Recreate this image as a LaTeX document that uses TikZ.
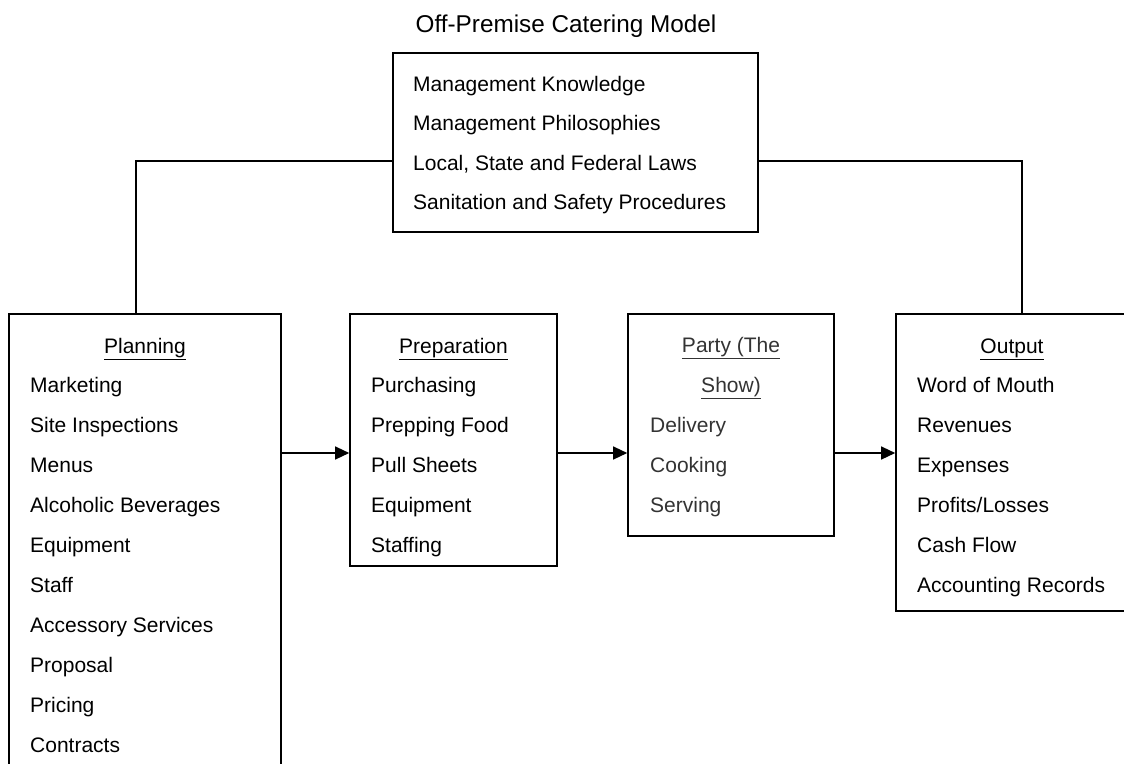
\documentclass[tikz,border=0pt]{standalone}
\usepackage{fontspec}
\setmainfont{Liberation Sans}
\usetikzlibrary{positioning}
\usetikzlibrary{arrows.meta}
\tikzset{
    catbox/.style = {rectangle, line width=1.6pt, draw=black, inner sep=0pt},
    cathead/.style = {anchor=base, inner sep=0pt, align=center, font=\fontsize{21}{39.5}\selectfont, text=black},
    catitem/.style = {anchor=base west, inner sep=0pt, align=left, font=\fontsize{21}{40}\selectfont, text=black},
    edgen/.style = {-, line width=1.3pt, black},
    edgea/.style = {-{Triangle[length=14pt,width=13pt]}, line width=1.3pt, black}, % flow
}

\begin{document}
\begin{tikzpicture}[x=1pt,y=-1pt]
  \useasboundingbox (0,0) rectangle (1124,763);
  \clip (0,0) rectangle (1124,763);
  \node[cathead, font=\fontsize{24.3}{30}\selectfont] (title) at (566,32) {Off-Premise Catering Model};
  % management box (text placed at last baseline)
  \node[catbox, minimum width=365pt, minimum height=179pt] (mgmt) at (575.5,142.5) {};
  \node[catitem, font=\fontsize{21}{39.5}\selectfont] (mgmttext) at (413,209.5)
    {Management Knowledge\\Management Philosophies\\Local, State and Federal Laws\\Sanitation and Safety Procedures};
  % planning
  \node[catbox, minimum width=272pt, minimum height=490pt] (plan) at (145,559) {};
  \node[cathead] (planhead) at (145,353) {\underline{Planning}};
  \node[catitem] (plantext) at (30,752)
    {Marketing\\Site Inspections\\Menus\\Alcoholic Beverages\\Equipment\\Staff\\Accessory Services\\Proposal\\Pricing\\Contracts};
  % preparation
  \node[catbox, minimum width=207pt, minimum height=252pt] (prep) at (453.5,440) {};
  \node[cathead] (prephead) at (453.5,353) {\underline{Preparation}};
  \node[catitem] (preptext) at (371,552)
    {Purchasing\\Prepping Food\\Pull Sheets\\Equipment\\Staffing};
  % party
  \node[catbox, minimum width=206pt, minimum height=222pt] (party) at (731,425) {};
  \node[cathead, text=black!80] (partyhead) at (731,392) {\underline{Party (The}\\\underline{Show)}};
  \node[catitem, text=black!80] (partytext) at (650,512)
    {Delivery\\Cooking\\Serving};
  % output
  \node[catbox, minimum width=232pt, minimum height=297pt] (out) at (1012,462.5) {};
  \node[cathead] (outhead) at (1012,353) {\underline{Output}};
  \node[catitem] (outtext) at (917,592)
    {Word of Mouth\\Revenues\\Expenses\\Profits/Losses\\Cash Flow\\Accounting Records};
  % connectors
  \coordinate (flow) at (0,453);
  \draw[edgen] ([yshift=-18.5pt]mgmt.west) -| ([xshift=-9pt]plan.north);
  \draw[edgen] ([yshift=-18.5pt]mgmt.east) -| ([xshift=10pt]out.north);
  \draw[edgea] (plan.east |- flow) -- (prep.west |- flow);
  \draw[edgea] (prep.east |- flow) -- (party.west |- flow);
  \draw[edgea] (party.east |- flow) -- (out.west |- flow);
\end{tikzpicture}
\end{document}
